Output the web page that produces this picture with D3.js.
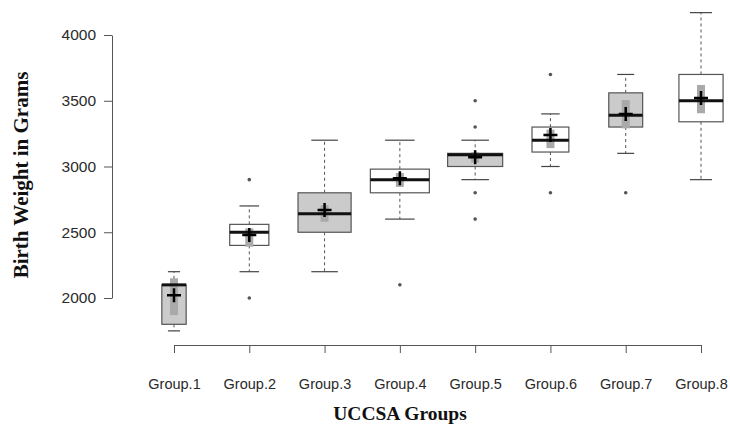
<!DOCTYPE html>
<html>
<head>
<meta charset="utf-8">
<script src="https://cdn.jsdelivr.net/npm/d3@7"></script>
<style>
  body { margin: 0; background: #fff; }
  .tick text { font-family: "Liberation Sans", Arial, sans-serif; fill: #2a2a2a; }
  .axis path, .axis line { stroke: #555; }
  .title { font-family: "Liberation Serif", "Times New Roman", serif; font-weight: bold; fill: #111; }
</style>
</head>
<body>
<svg id="svg" width="730" height="424"></svg>
<script>
const groups = ["Group.1", "Group.2", "Group.3", "Group.4", "Group.5", "Group.6", "Group.7", "Group.8"];
const sampleSize = [17, 44, 81, 100, 87, 39, 33, 56];
const lowerWhisker = [1750, 2200, 2200, 2600, 2900, 3000, 3100, 2900];
const q1 = [1800, 2400, 2500, 2800, 3000, 3110, 3300, 3340];
const median = [2100, 2500, 2640, 2900, 3090, 3200, 3390, 3500];
const q3 = [2100, 2560, 2800, 2980, 3100, 3300, 3560, 3700];
const upperWhisker = [2200, 2700, 3200, 3200, 3200, 3400, 3700, 4170];
const means = [2020, 2480, 2670, 2910, 3070, 3240, 3400, 3520];
const ciLow = [1870, 2390, 2580, 2845, 3030, 3140, 3290, 3405];
const ciHigh = [2150, 2530, 2705, 2950, 3110, 3280, 3505, 3620];
const outliers = [[], [2900, 2000], [], [2100], [3500, 3300, 2800, 2600], [3700, 2800], [2800], []];
const yTicks = [2000, 2500, 3000, 3500, 4000];

const svg = d3.select("svg#svg");

const x = d3.scalePoint().domain(groups).range([174, 701]);
const y = d3.scaleLinear().domain([2000, 4000]).range([298, 35]);
const w = d3.scaleSqrt().domain([0, d3.max(sampleSize)]).range([0, 59]);

const data = groups.map(function(g, i) {
  return {
    name: g, n: sampleSize[i], lo: lowerWhisker[i], q1: q1[i], med: median[i],
    q3: q3[i], hi: upperWhisker[i], mean: means[i], ciLo: ciLow[i], ciHi: ciHigh[i],
    out: outliers[i], fill: i % 2 === 0 ? "#cbcbcb" : "#ffffff"
  };
});

// axes
const yAxis = svg.append("g")
  .attr("class", "axis")
  .attr("transform", "translate(112,0)")
  .call(d3.axisLeft(y).tickValues(yTicks).tickSize(8).tickSizeOuter(0).tickPadding(8).tickFormat(d3.format("d")));
yAxis.selectAll(".tick text").style("font-size", "15.5px");

const xAxis = svg.append("g")
  .attr("class", "axis")
  .attr("transform", "translate(0,345)")
  .call(d3.axisBottom(x).tickSize(8).tickSizeOuter(0).tickPadding(36));
xAxis.selectAll(".tick text").attr("dy", null).style("font-size", "14.5px");

// boxes
const box = svg.append("g").selectAll("g.box")
  .data(data)
  .enter()
  .append("g")
  .attr("class", "box")
  .attr("transform", d => "translate(" + x(d.name) + ",0)");

box.append("line")
  .attr("y1", d => y(d.q3)).attr("y2", d => y(d.hi))
  .attr("stroke", "#555").attr("stroke-dasharray", "3,3");
box.append("line")
  .attr("y1", d => y(d.q1)).attr("y2", d => y(d.lo))
  .attr("stroke", "#555").attr("stroke-dasharray", "3,3");

box.selectAll("line.cap")
  .data(d => [d.lo, d.hi].map(v => ({v: v, half: w(d.n) / 4})))
  .enter()
  .append("line")
  .attr("class", "cap")
  .attr("x1", d => -d.half).attr("x2", d => d.half)
  .attr("y1", d => y(d.v)).attr("y2", d => y(d.v))
  .attr("stroke", "#444").attr("stroke-width", 1.2);

box.append("rect")
  .attr("x", d => -w(d.n) / 2)
  .attr("width", d => w(d.n))
  .attr("y", d => y(d.q3))
  .attr("height", d => y(d.q1) - y(d.q3))
  .attr("fill", d => d.fill)
  .attr("stroke", "#555").attr("stroke-width", 1.2);

box.append("rect")
  .attr("x", -4).attr("width", 8)
  .attr("y", d => y(d.ciHi))
  .attr("height", d => y(d.ciLo) - y(d.ciHi))
  .attr("fill", "#a9a9a9");

box.append("line")
  .attr("x1", d => -w(d.n) / 2).attr("x2", d => w(d.n) / 2)
  .attr("y1", d => y(d.med)).attr("y2", d => y(d.med))
  .attr("stroke", "#111").attr("stroke-width", 3);

box.append("path")
  .attr("d", d => "M-7," + y(d.mean) + "H7M0," + (y(d.mean) - 7) + "V" + (y(d.mean) + 7))
  .attr("stroke", "#000").attr("stroke-width", 2.5);

box.selectAll("circle")
  .data(d => d.out)
  .enter()
  .append("circle")
  .attr("cy", d => y(d))
  .attr("r", 1.8)
  .attr("fill", "#555");

// titles
svg.append("text")
  .attr("class", "title")
  .attr("transform", "translate(28,175) rotate(-90)")
  .attr("text-anchor", "middle")
  .style("font-size", "21px")
  .text("Birth Weight in Grams");

svg.append("text")
  .attr("class", "title")
  .attr("x", 400).attr("y", 420)
  .attr("text-anchor", "middle")
  .style("font-size", "19.5px")
  .text("UCCSA Groups");
</script>
</body>
</html>
